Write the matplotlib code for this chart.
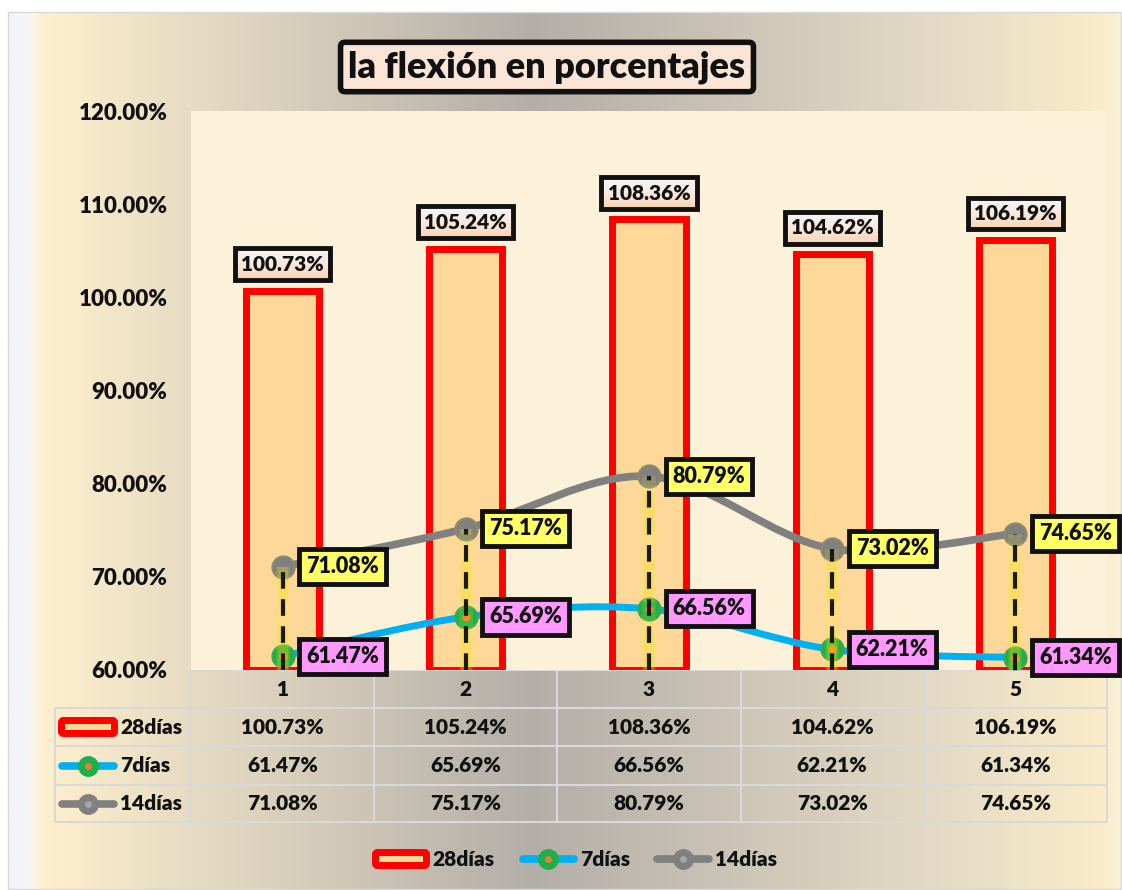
# coding=utf8
# Flexion test results (7, 14 and 28 days) as a combo chart with a data table

import numpy as np
import matplotlib
matplotlib.use("Agg")
import matplotlib.pyplot as plt
import matplotlib.transforms as mtrans
from matplotlib.path import Path
from matplotlib.patches import PathPatch, Rectangle, FancyBboxPatch
from matplotlib.colors import LinearSegmentedColormap

plt.rcParams["font.family"] = ["Lato", "DejaVu Sans"]
plt.rcParams["font.weight"] = "heavy"

categories = ["1", "2", "3", "4", "5"]
dias28 = [100.73, 105.24, 108.36, 104.62, 106.19]
dias7 = [61.47, 65.69, 66.56, 62.21, 61.34]
dias14 = [71.08, 75.17, 80.79, 73.02, 74.65]
series_names = ["28días", "7días", "14días"]
yticks = [60, 70, 80, 90, 100, 110, 120]

W, H = 1122, 890
RED = "#FF0000"
BAR_FILL = "#FDD898"
CYAN = "#00B0F0"
GREEN = "#1FAE4B"
ORANGE = "#ED7D31"
GREY = "#808080"
INK = "#111111"


def smooth_path(xs, ys):
    # bezier curve through the points, like the "smoothed line" option
    pts = np.column_stack([xs, ys]).astype(float)
    verts = [pts[0]]
    codes = [Path.MOVETO]
    n = len(pts)
    for i in range(n - 1):
        p0 = pts[i - 1] if i > 0 else pts[i]
        p1 = pts[i]
        p2 = pts[i + 1]
        p3 = pts[i + 2] if i + 2 < n else pts[i + 1]
        verts += [p1 + (p2 - p0) / 6.0, p2 - (p3 - p1) / 6.0, p2]
        codes += [Path.CURVE4] * 3
    return Path(verts, codes)


def draw_key(axe, x0, x1, y, kind):
    xm = (x0 + x1) / 2.0
    if kind == "28días":
        axe.add_patch(FancyBboxPatch((x0 + 3.5, y - 6.5), (x1 - x0) - 7, 13,
                                     boxstyle="round,pad=0,rounding_size=2",
                                     fc=BAR_FILL, ec=RED, lw=5, zorder=3))
    else:
        col = CYAN if kind == "7días" else GREY
        face = GREEN if kind == "7días" else GREY
        dot = ORANGE if kind == "7días" else "#A6A6A6"
        axe.plot([x0 + 4, x1 - 4], [y, y], color=col, lw=5.5,
                 solid_capstyle="round", zorder=3)
        axe.plot([xm], [y], marker="o", ms=14, mfc=face, mec=face, zorder=4)
        axe.plot([xm], [y], marker="o", ms=4, mfc=dot, mec=dot, zorder=5)


fig = plt.figure(figsize=(W / 100.0, H / 100.0), dpi=100)

# background layer in pixel coordinates
bg = fig.add_axes([0, 0, 1, 1])
bg.set_zorder(0)
bg_cmap = LinearSegmentedColormap.from_list("bg", [
    (0.0, "#F2F4F9"), (0.012, "#F2F4F9"), (0.02, "#FBF6EA"), (0.028, "#FFF0CD"),
    (0.14, "#EADFC5"), (0.47, "#B4AEA9"), (0.85, "#E6DCC6"), (0.985, "#FAECC9"),
    (1.0, "#FBF1D8")])
bg.imshow(np.linspace(0, 1, 600)[None, :], cmap=bg_cmap, extent=[8, W, H, 12],
          aspect="auto", interpolation="bilinear", zorder=0)
bg.add_patch(Rectangle((8, 12), W - 9, H - 13, fill=False, ec="#D9D9D9", lw=1))
bg.set_xlim(0, W)
bg.set_ylim(H, 0)
bg.axis("off")

bg.text(547, 67, "la flexión en porcentajes", ha="center", va="center",
        fontsize=26, color=INK,
        bbox=dict(boxstyle="round,pad=0.22,rounding_size=0.12", fc="#FBE5D6",
                  ec=INK, lw=4))

# plot area
ax = fig.add_axes([191 / W, (H - 670) / H, 916 / W, 559 / H])
ax.set_zorder(1)
ax.set_facecolor("#FCF1D9")
x = np.arange(1, len(categories) + 1)

ax.bar(x, np.array(dias28) - 60, bottom=60, width=0.40, color=BAR_FILL,
       edgecolor=RED, linewidth=5, zorder=2)

ax.add_patch(PathPatch(smooth_path(x, dias14), fill=False, ec=GREY, lw=5.5,
                       capstyle="round", zorder=4))
ax.add_patch(PathPatch(smooth_path(x, dias7), fill=False, ec=CYAN, lw=5,
                       capstyle="round", zorder=4))
ax.plot(x, dias14, ls="none", marker="o", ms=16, mfc=GREY, mec="#8E8B6C",
        mew=1.5, zorder=5)
ax.plot(x, dias7, ls="none", marker="o", ms=16, mfc=GREEN, mec="#3DA84F",
        mew=1.5, zorder=5)
ax.plot(x, dias7, ls="none", marker="o", ms=5, mfc=ORANGE, mec=ORANGE, zorder=5)

# drop lines with a soft yellow glow
dash = (0, (4, 2.5))
ax.vlines(x, 60, dias14, colors="#FFFF00", lw=10, alpha=0.13, zorder=6)
ax.vlines(x, 60, dias14, colors="#F0E000", lw=7.5, alpha=0.25, linestyles=dash,
          zorder=6)
ax.vlines(x, 60, dias14, colors="#1A1A1A", lw=3, linestyles=dash, zorder=6.5)

bar_labels = []
for xi, v in zip(x, dias28):
    t = ax.annotate(f"{v:.2f}%", (xi, v), xytext=(0, 19), textcoords="offset points",
                    ha="center", va="center", fontsize=15, color=INK,
                    bbox=dict(boxstyle="square,pad=0.3", fc="none", ec=INK, lw=3.5),
                    zorder=8)
    bar_labels.append(t)

for vals, fc in ((dias14, "#FFFF66"), (dias7, "#FF99FF")):
    for xi, v in zip(x, vals):
        ax.annotate(f"{v:.2f}%", (xi, v), xytext=(17, 0), textcoords="offset points",
                    ha="left", va="center", fontsize=15.5, color=INK,
                    bbox=dict(boxstyle="square,pad=0.33", fc=fc, ec=INK, lw=3.5),
                    zorder=9, annotation_clip=False)

ax.set_xlim(0.5, 5.5)
ax.set_ylim(60, 120)
ax.set_yticks(yticks)
ax.set_yticklabels([f"{v:.2f}%" for v in yticks])
ax.set_xticks([])
ax.tick_params(axis="y", length=0, pad=17, labelsize=16, labelcolor=INK)
for s in ax.spines.values():
    s.set_visible(False)

# data table under the plot, columns follow the category positions
blend = mtrans.blended_transform_factory(ax.transData, bg.transData)
grid = "#D9D9D9"
edges = np.arange(0.5, len(categories) + 1, 1.0)
bg.vlines(edges, 670, 822, colors=grid, lw=1.5, transform=blend, zorder=2)
bg.vlines([55], 708, 822, colors=grid, lw=1.5, zorder=2)
bg.hlines([708, 746, 785, 822], 55, 1107, colors=grid, lw=1.5, zorder=2)
bg.hlines([670], 191, 1107, colors=grid, lw=1.5, zorder=2)

for xi, c in zip(x, categories):
    bg.text(xi, 689, c, transform=blend, ha="center", va="center", fontsize=15,
            color=INK)

row_y = [727, 766, 804]
for yy, name, vals in zip(row_y, series_names, (dias28, dias7, dias14)):
    draw_key(bg, 58, 118, yy, name)
    bg.text(120, yy, name, ha="left", va="center", fontsize=15, color=INK)
    for xi, v in zip(x, vals):
        bg.text(xi, yy, f"{v:.2f}%", transform=blend, ha="center", va="center",
                fontsize=15, color=INK)

# legend at the bottom
for x0, x1, name in ((372, 430, "28días"), (519, 578, "7días"), (653, 713, "14días")):
    draw_key(bg, x0, x1, 859, name)
    bg.text(x1 + 2, 859, name, ha="left", va="center", fontsize=15, color=INK)

# gradient fill inside the bar value boxes
fig.canvas.draw()
renderer = fig.canvas.get_renderer()
inv = ax.transData.inverted()
label_cmap = LinearSegmentedColormap.from_list("lab", ["#F4F6FA", "#FBE9DE", "#F8D3B4"])
for t in bar_labels:
    ext = t.get_bbox_patch().get_window_extent(renderer)
    (bx0, by0), (bx1, by1) = inv.transform([(ext.x0, ext.y0), (ext.x1, ext.y1)])
    ax.imshow(np.linspace(0, 1, 64)[:, None], cmap=label_cmap,
              extent=[bx0, bx1, by0, by1], aspect="auto", interpolation="bilinear",
              zorder=7.9)
ax.set_xlim(0.5, 5.5)
ax.set_ylim(60, 120)

fig.savefig("out.png", dpi=100)
